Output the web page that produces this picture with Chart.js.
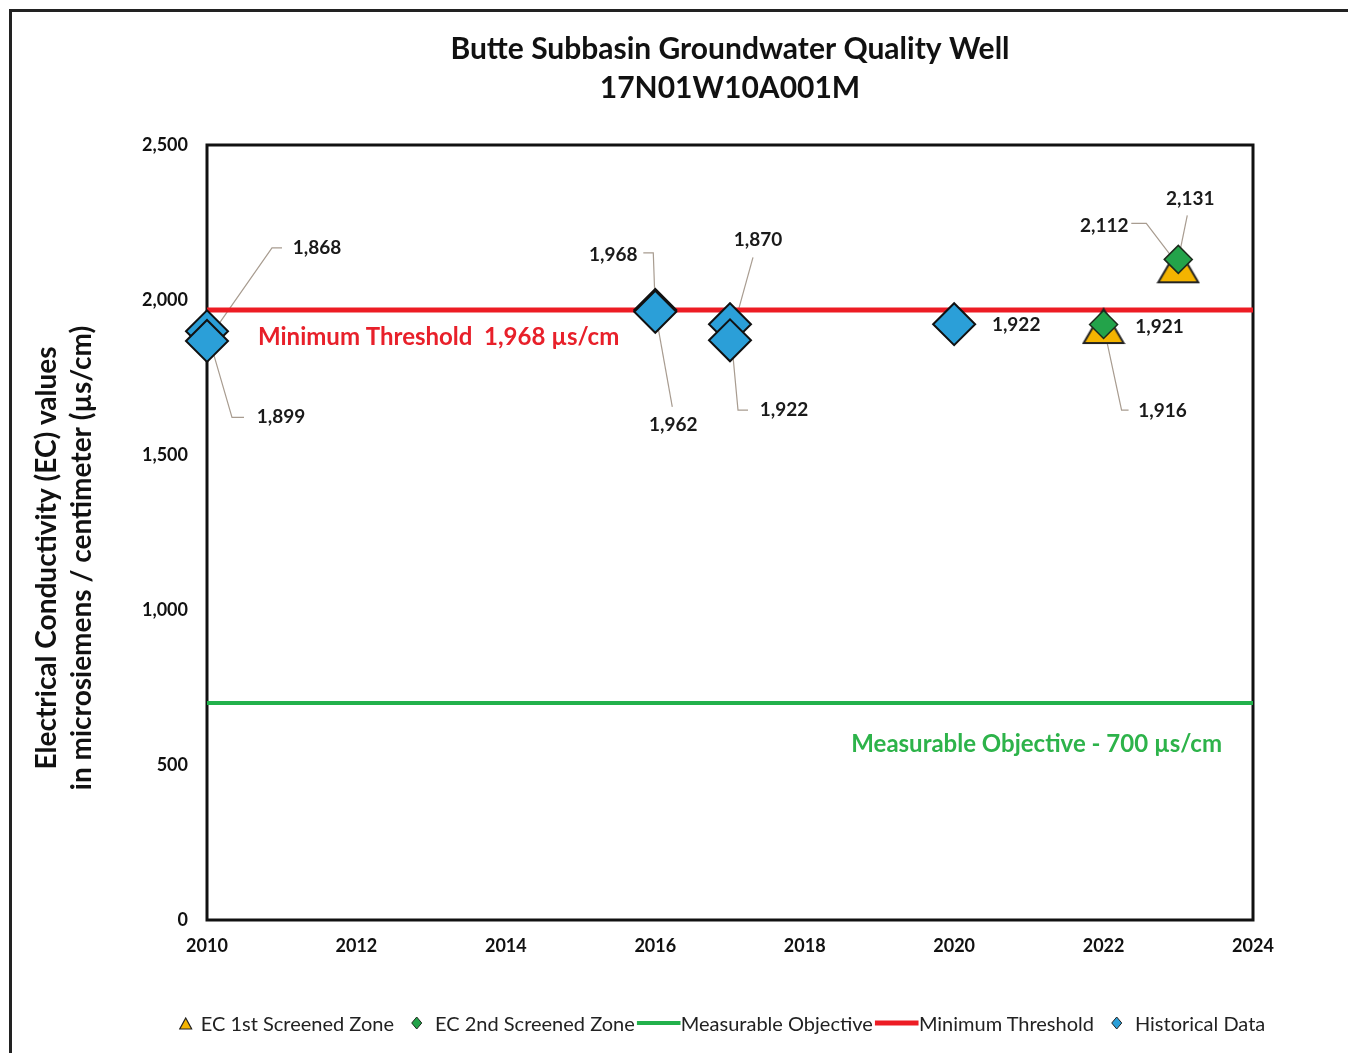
<!DOCTYPE html>
<html>
<head>
<meta charset="utf-8">
<script src="https://cdn.jsdelivr.net/npm/chart.js@4.4.1/dist/chart.umd.min.js"></script>
<style>
  html, body { margin: 0; padding: 0; background: #fff; overflow: hidden; }
  #wrap { position: relative; width: 1348px; height: 1053px; }
  #frame { position: absolute; left: 9px; top: 9px; right: 0; bottom: 0; border-top: 3px solid #222; border-left: 3px solid #222; pointer-events: none; }
  #legend { position: absolute; top: 1011px; left: 722px; transform: translateX(-50%); white-space: nowrap;
            font-family: Lato, "Open Sans", sans-serif; font-size: 20px; color: #222; display: flex; align-items: center; }
  #legend .item { display: flex; align-items: center; }
  #legend svg { display: block; }
</style>
</head>
<body>
<div id="wrap">
  <canvas id="chart" width="1348" height="1053"></canvas>
  <div id="frame"></div>
  <div id="legend"></div>
</div>
<script>
// Données
const yearTicks = [2010, 2012, 2014, 2016, 2018, 2020, 2022, 2024];
const ecTicks = [0, 500, 1000, 1500, 2000, 2500];

const histYears = [2010, 2010, 2016, 2016, 2017, 2017, 2020];
const histValues = [1899, 1868, 1968, 1962, 1922, 1870, 1922];

const zone1Years = [2022, 2023];
const zone1Values = [1916, 2112];

const zone2Years = [2022, 2023];
const zone2Values = [1921, 2131];

const objectiveYears = [2010, 2024];
const objectiveValues = [700, 700];

const thresholdYears = [2010, 2024];
const thresholdValues = [1968, 1968];

const yTitle = ['Electrical Conductivity (EC) values', 'in microsiemens / centimeter (µs/cm)'];

const toPoints = (xs, ys) => xs.map((x, i) => ({ x: x, y: ys[i] }));
const fmt = v => v.toLocaleString('en-US');
const FONT = 'Lato, "Open Sans", sans-serif';

// marqueur triangle (centré sur sa boite, comme Excel)
const makeTriangle = (w, h, lw) => {
  const c = document.createElement('canvas');
  c.width = w + lw * 2; c.height = h + lw * 2;
  const g = c.getContext('2d');
  g.beginPath();
  g.moveTo(c.width / 2, lw);
  g.lineTo(c.width - lw, c.height - lw);
  g.lineTo(lw, c.height - lw);
  g.closePath();
  g.fillStyle = '#f4b400';
  g.fill();
  g.lineWidth = lw;
  g.strokeStyle = '#222';
  g.stroke();
  return c;
};
const triangleImg = makeTriangle(40, 34, 2);

// étiquettes de valeurs : [dataset, index, dx, dy, leader...]
const labelLayout = [
  { ds: 4, i: 0, dx: 74, dy: 86, leader: [[25, 86], [37, 86]] },
  { ds: 4, i: 1, dx: 110, dy: -93, leader: [[65, -93], [75, -93]] },
  { ds: 4, i: 2, dx: -42, dy: -55, leader: [[-2, -57], [-12, -57]] },
  { ds: 4, i: 3, dx: 18, dy: 113, leader: [[17, 95]] },
  { ds: 4, i: 4, dx: 54, dy: 86, leader: [[8, 86], [18, 86]] },
  { ds: 4, i: 5, dx: 28, dy: -100, leader: [[23, -83]] },
  { ds: 4, i: 6, dx: 62, dy: 1, leader: null },
  { ds: 0, i: 0, dx: 59, dy: 85, leader: [[18, 84], [25, 84]] },
  { ds: 0, i: 1, dx: -74, dy: -39, leader: [[-32, -42], [-47, -42]] },
  { ds: 1, i: 0, dx: 56, dy: 2, leader: null },
  { ds: 1, i: 1, dx: 12, dy: -61, leader: [[9, -44]] }
];

const frameAndNotes = {
  id: 'frameAndNotes',
  beforeDatasetsDraw(chart) {
    const { ctx, chartArea: a, scales } = chart;
    ctx.save();
    ctx.lineWidth = 3;
    ctx.strokeStyle = '#111';
    ctx.strokeRect(a.left, a.top, a.right - a.left, a.bottom - a.top);

    // lignes de rappel
    ctx.lineWidth = 1.2;
    ctx.strokeStyle = '#a89c90';
    labelLayout.forEach(l => {
      if (!l.leader) return;
      const p = chart.data.datasets[l.ds].data[l.i];
      const px = scales.x.getPixelForValue(p.x);
      const py = scales.y.getPixelForValue(p.y);
      ctx.beginPath();
      ctx.moveTo(px, py);
      l.leader.forEach(o => ctx.lineTo(px + o[0], py + o[1]));
      ctx.stroke();
    });

    // textes des seuils
    ctx.font = 'bold 24px ' + FONT;
    ctx.textBaseline = 'middle';
    ctx.fillStyle = '#e8202a';
    ctx.textAlign = 'left';
    ctx.fillText('Minimum Threshold  1,968 µs/cm', a.left + 51, scales.y.getPixelForValue(thresholdValues[0]) + 27);
    ctx.fillStyle = '#2db34a';
    ctx.textAlign = 'right';
    ctx.fillText('Measurable Objective - 700 µs/cm', a.right - 31, scales.y.getPixelForValue(objectiveValues[0]) + 41);

    // titre de l'axe vertical
    ctx.fillStyle = '#111';
    ctx.font = 'bold 28px ' + FONT;
    ctx.textAlign = 'center';
    ctx.translate(47, 558);
    ctx.rotate(-Math.PI / 2);
    ctx.fillText(yTitle[0], 0, 0);
    ctx.fillText(yTitle[1], 0, 35);
    ctx.restore();
  },
  afterDatasetsDraw(chart) {
    const { ctx, scales } = chart;
    ctx.save();
    ctx.font = 'bold 19px ' + FONT;
    ctx.fillStyle = '#1a1a1a';
    ctx.textAlign = 'center';
    ctx.textBaseline = 'middle';
    labelLayout.forEach(l => {
      const p = chart.data.datasets[l.ds].data[l.i];
      const px = scales.x.getPixelForValue(p.x);
      const py = scales.y.getPixelForValue(p.y);
      ctx.fillText(fmt(p.y), px + l.dx, py + l.dy);
    });
    ctx.restore();
  }
};

const tickFont = { family: FONT, size: 18, weight: 'bold' };

const ctx = document.getElementById('chart').getContext('2d');
const chart = new Chart(ctx, {
  type: 'scatter',
  data: {
    datasets: [
      {
        label: 'EC 1st Screened Zone',
        data: toPoints(zone1Years, zone1Values),
        pointStyle: triangleImg,
        order: 3,
        clip: false
      },
      {
        label: 'EC 2nd Screened Zone',
        data: toPoints(zone2Years, zone2Values),
        pointStyle: 'rectRot',
        pointRadius: 14,
        backgroundColor: '#23a34a',
        borderColor: '#1d2b1d',
        borderWidth: 1.5,
        order: 1,
        clip: false
      },
      {
        label: 'Measurable Objective',
        type: 'line',
        data: toPoints(objectiveYears, objectiveValues),
        borderColor: '#22b14c',
        borderWidth: 4,
        pointRadius: 0,
        order: 10
      },
      {
        label: 'Minimum Threshold',
        type: 'line',
        data: toPoints(thresholdYears, thresholdValues),
        borderColor: '#ed1c24',
        borderWidth: 5,
        pointRadius: 0,
        order: 9
      },
      {
        label: 'Historical Data',
        data: toPoints(histYears, histValues),
        pointStyle: 'rectRot',
        pointRadius: 21,
        backgroundColor: '#2b9fd8',
        borderColor: '#111',
        borderWidth: 2,
        order: 2,
        clip: false
      }
    ]
  },
  options: {
    responsive: false,
    animation: false,
    devicePixelRatio: 1,
    layout: { padding: { left: 0, right: 95, top: 0, bottom: 0 } },
    plugins: {
      legend: { display: false },
      tooltip: { enabled: false },
      title: {
        display: true,
        fullSize: false,
        text: ['Butte Subbasin Groundwater Quality Well', '17N01W10A001M'],
        color: '#111',
        font: { family: FONT, size: 30, weight: 'bold', lineHeight: 1.3 },
        padding: { top: 30, bottom: 37 }
      }
    },
    scales: {
      x: {
        type: 'linear',
        min: 2010,
        max: 2024,
        afterBuildTicks: s => { s.ticks = yearTicks.map(v => ({ value: v })); },
        afterFit: s => { s.height = 133; },
        grid: { display: false, drawTicks: false },
        border: { display: false },
        ticks: { color: '#111', font: tickFont, padding: 15, callback: v => String(v) }
      },
      y: {
        min: 0,
        max: 2500,
        afterBuildTicks: s => { s.ticks = ecTicks.map(v => ({ value: v })); },
        afterFit: s => { s.width = 207; },
        grid: { display: false, drawTicks: false },
        border: { display: false },
        ticks: { color: '#111', font: tickFont, padding: 19, callback: v => fmt(v) }
      }
    }
  },
  plugins: [frameAndNotes]
});

// légende en bas
const legendItems = [
  { text: 'EC 1st Screened Zone', icon: '<svg width="14" height="13"><polygon points="7,1 13,12 1,12" fill="#f4b400" stroke="#222" stroke-width="1.2"/></svg>', gapL: 0, gapR: 8 },
  { text: 'EC 2nd Screened Zone', icon: '<svg width="12" height="14"><polygon points="6,1 11,7 6,13 1,7" fill="#23a34a" stroke="#1d2b1d" stroke-width="1"/></svg>', gapL: 17, gapR: 12 },
  { text: 'Measurable Objective', icon: '<svg width="44" height="6"><rect x="0" y="1" width="44" height="4" fill="#22b14c"/></svg>', gapL: 2, gapR: 0 },
  { text: 'Minimum Threshold', icon: '<svg width="44" height="6"><rect x="0" y="0.5" width="44" height="5" fill="#ed1c24"/></svg>', gapL: 2, gapR: 0 },
  { text: 'Historical Data', icon: '<svg width="12" height="14"><polygon points="6,1 11,7 6,13 1,7" fill="#2b9fd8" stroke="#222" stroke-width="1"/></svg>', gapL: 17, gapR: 12 }
];
document.getElementById('legend').innerHTML = legendItems.map(it =>
  '<span class="item" style="margin-left:' + it.gapL + 'px">' + it.icon +
  '<span style="margin-left:' + it.gapR + 'px">' + it.text + '</span></span>'
).join('');
</script>
</body>
</html>
